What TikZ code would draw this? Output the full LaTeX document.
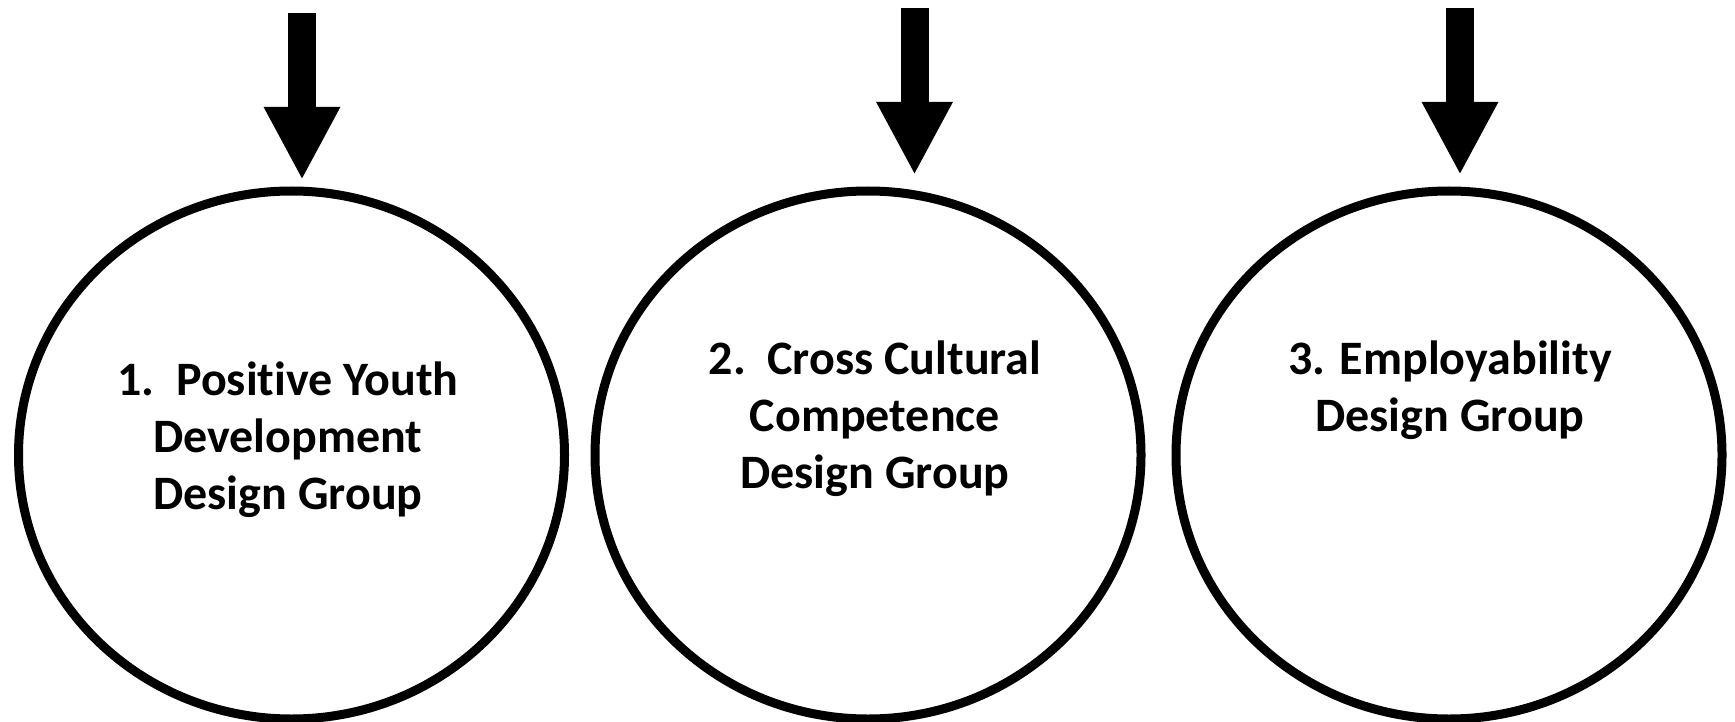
\documentclass[tikz,border=0pt]{standalone}
\usepackage{fontspec}
\setmainfont{Carlito}[Ligatures=NoCommon]
\usetikzlibrary{arrows.meta, positioning, shapes.geometric}

\begin{document}
\begin{tikzpicture}[
    x=1pt, y=-1pt,
    ring/.style = {draw, ellipse, line width=9pt, inner sep=0pt,
                   minimum width=546pt, minimum height=528pt},
    txt/.style = {align=center, inner sep=0pt,
                  font=\bfseries\fontsize{48}{57}\selectfont},
    arrow/.style = {-{Triangle[width=71pt, length=73pt]}, line width=28pt},
  ]
  \useasboundingbox (0,0) rectangle (1735,722);

  % Design groups
  \node[ring] (g1) at (291.5,455) {};
  \node[ring] (g2) at (868,455) {};
  \node[ring] (g3) at (1449,455) {};

  % Group titles
  \node[txt] (t1) at (288,440) {1.\ \ Positive Youth\\Development\\Design Group};
  \node[txt] (t2) at (875,419) {2.\ \ Cross Cultural\\Competence\\Design Group};
  \node[txt] (t3) at (1450,390) {3. Employability\\Design Group};

  % Inputs from above
  \coordinate (in1) at (302,13);
  \coordinate (in2) at (914.5,8);
  \coordinate (in3) at (1460,8);

  % Arrows
  \draw[arrow, shorten >=6.5pt] (in1) -- (g1.north -| in1);
  \draw[arrow, shorten >=11.5pt] (in2) -- (g2.north -| in2);
  \draw[arrow, shorten >=11.5pt] (in3) -- (g3.north -| in3);

\end{tikzpicture}
\end{document}
